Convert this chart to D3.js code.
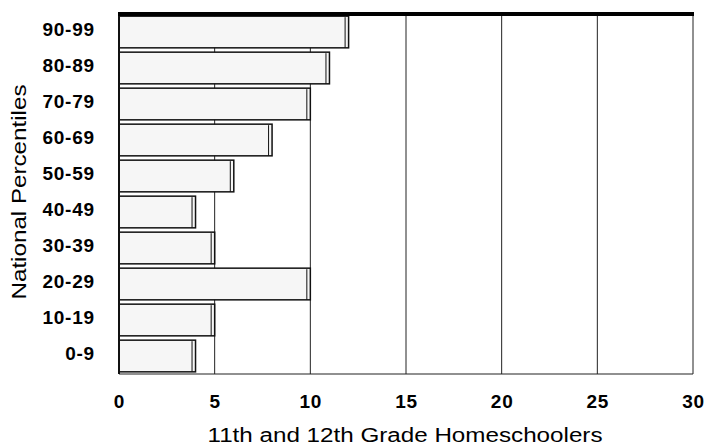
<!DOCTYPE html>
<html>
<head>
<meta charset="utf-8">
<script src="https://cdn.jsdelivr.net/npm/d3@7"></script>
<style>
  html, body { margin: 0; padding: 0; background: #fff; }
  svg { display: block; }
</style>
</head>
<body>
<svg id="chart" width="705" height="445"></svg>
<script>
const categories = ["90-99", "80-89", "70-79", "60-69", "50-59", "40-49", "30-39", "20-29", "10-19", "0-9"];
const values = [12, 11, 10, 8, 6, 4, 5, 10, 5, 4];
const xTicks = [0, 5, 10, 15, 20, 25, 30];
const xTitle = "11th and 12th Grade Homeschoolers";
const yTitle = "National Percentiles";

const svg = d3.select("#chart");
const m = { left: 119, right: 693, top: 14, bottom: 374 };

const x = d3.scaleLinear().domain([0, 30]).range([m.left, m.right]);
const y = d3.scaleBand().domain(categories).range([m.top, m.bottom])
  .paddingInner(0.12).paddingOuter(0.06);

// gridlines
svg.append("g").selectAll("line").data(xTicks.filter(d => d > 0)).join("line")
  .attr("x1", d => x(d)).attr("x2", d => x(d))
  .attr("y1", m.top).attr("y2", m.bottom)
  .attr("stroke", "#222").attr("stroke-width", 1);

// bottom border
svg.append("line").attr("x1", m.left).attr("x2", m.right)
  .attr("y1", m.bottom).attr("y2", m.bottom)
  .attr("stroke", "#222").attr("stroke-width", 1.2);

// bars
const data = categories.map((c, i) => ({ c, v: values[i] }));
const g = svg.append("g");
g.selectAll("rect.bar").data(data).join("rect")
  .attr("class", "bar")
  .attr("x", x(0))
  .attr("y", d => y(d.c))
  .attr("width", d => x(d.v) - x(0))
  .attr("height", y.bandwidth())
  .attr("fill", "#f6f6f6")
  .attr("stroke", "#111").attr("stroke-width", 1.5);
g.selectAll("line.edge").data(data).join("line")
  .attr("class", "edge")
  .attr("x1", d => x(d.v) - 3.5).attr("x2", d => x(d.v) - 3.5)
  .attr("y1", d => y(d.c) + 1).attr("y2", d => y(d.c) + y.bandwidth())
  .attr("stroke", "#111").attr("stroke-width", 1);

// left axis line
svg.append("line").attr("x1", m.left).attr("x2", m.left)
  .attr("y1", m.top).attr("y2", m.bottom)
  .attr("stroke", "#111").attr("stroke-width", 2);

// top thick line
svg.append("line").attr("x1", m.left - 1).attr("x2", m.right + 1)
  .attr("y1", m.top).attr("y2", m.top)
  .attr("stroke", "#000").attr("stroke-width", 4);

const fontFam = "Liberation Sans, Arial, sans-serif";

// x axis labels
const xAxis = d3.axisBottom(x).tickValues(xTicks).tickSize(0).tickPadding(0);
const xa = svg.append("g").attr("transform", `translate(0,${m.bottom})`).call(xAxis);
xa.select(".domain").remove();
xa.selectAll("text")
  .attr("dy", null).attr("y", 34)
  .attr("font-family", fontFam)
  .attr("font-weight", "bold").attr("font-size", 19)
  .attr("letter-spacing", 0.8)
  .attr("fill", "#000");

// y axis labels
const yAxis = d3.axisLeft(y).tickSize(0).tickPadding(0);
const ya = svg.append("g").attr("transform", `translate(${m.left},0)`).call(yAxis);
ya.select(".domain").remove();
ya.selectAll("text")
  .attr("x", -24).attr("dy", "0.22em")
  .attr("font-family", fontFam)
  .attr("font-weight", "bold").attr("font-size", 19)
  .attr("letter-spacing", 0.8)
  .attr("fill", "#000");

// titles
svg.append("text").attr("x", 405).attr("y", 442)
  .attr("text-anchor", "middle")
  .attr("font-family", fontFam)
  .attr("font-size", 20).attr("fill", "#000")
  .attr("textLength", 395).attr("lengthAdjust", "spacingAndGlyphs")
  .text(xTitle);
svg.append("text")
  .attr("transform", "translate(26,192) rotate(-90)")
  .attr("text-anchor", "middle")
  .attr("font-family", fontFam)
  .attr("font-size", 20).attr("fill", "#000")
  .attr("textLength", 215).attr("lengthAdjust", "spacingAndGlyphs")
  .text(yTitle);
</script>
</body>
</html>
